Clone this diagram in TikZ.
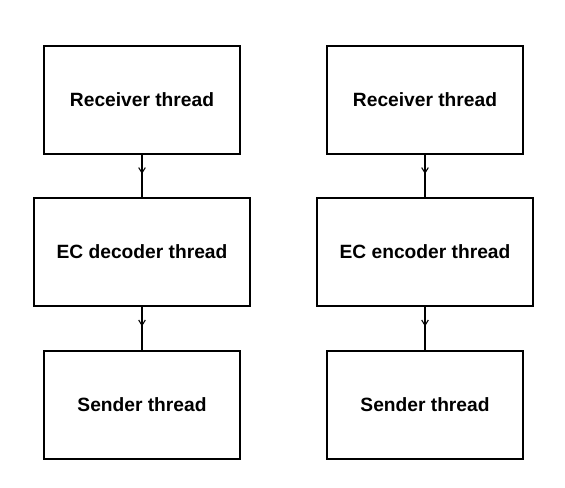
\documentclass[tikz,border=0pt]{standalone}
\usepackage{fontspec}
\setmainfont{Liberation Sans}
\usetikzlibrary{decorations.markings,arrows.meta}
\begin{document}
\begin{tikzpicture}[x=0.75pt,y=-0.75pt,
  box/.style={draw,line width=1.5pt,inner sep=0pt,font=\fontsize{14.4}{17}\selectfont\bfseries},
  conn/.style={line width=1.2pt,postaction={decorate},
    decoration={markings,mark=at position 0.45 with {\arrow{Straight Barb[length=4pt,width=5pt,line width=0.8pt]}}}}]
\useasboundingbox (0,0) rectangle (565,488);
\node[box,minimum width=196*0.75pt,minimum height=108*0.75pt] (r1) at (142,100) {Receiver thread};
\node[box,minimum width=216*0.75pt,minimum height=108*0.75pt] (e1) at (142,252) {EC decoder thread};
\node[box,minimum width=196*0.75pt,minimum height=108*0.75pt] (s1) at (142,405) {Sender thread};
\node[box,minimum width=196*0.75pt,minimum height=108*0.75pt] (r2) at (425,100) {Receiver thread};
\node[box,minimum width=216*0.75pt,minimum height=108*0.75pt] (e2) at (425,252) {EC encoder thread};
\node[box,minimum width=196*0.75pt,minimum height=108*0.75pt] (s2) at (425,405) {Sender thread};
\draw[conn] (r1) -- (e1);
\draw[conn] (e1) -- (s1);
\draw[conn] (r2) -- (e2);
\draw[conn] (e2) -- (s2);
\end{tikzpicture}
\end{document}
